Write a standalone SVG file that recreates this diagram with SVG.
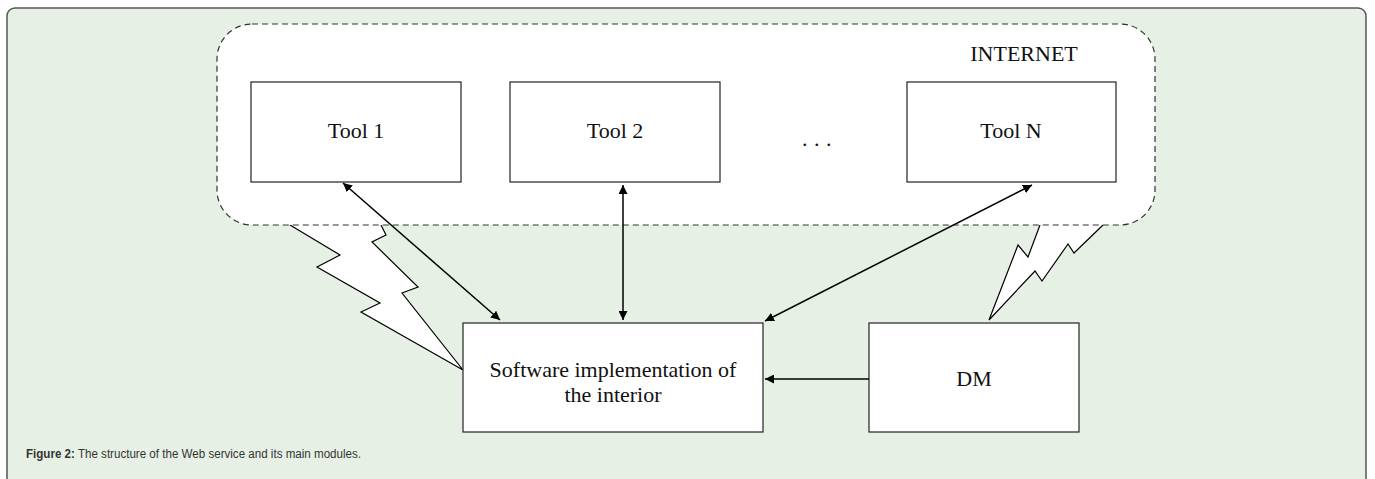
<svg xmlns="http://www.w3.org/2000/svg" width="1375" height="479" viewBox="0 0 1375 479">
<style>
.box{fill:#fff;stroke:#333;stroke-width:1.3}
.lbl{font-family:"Liberation Serif","Times New Roman",serif;font-size:22px;fill:#111;text-anchor:middle}
.conn{stroke:#000;stroke-width:1.5;fill:none}
.bolt{fill:#fff;stroke:none}
.boltline{fill:none;stroke:#000;stroke-width:1.2;stroke-linejoin:miter}
.cap{font-family:"Liberation Sans",Arial,sans-serif;font-size:12px;fill:#333}
</style>
<defs>
<marker id="ah" viewBox="0 0 10 10" refX="10" refY="5" markerWidth="9" markerHeight="9" markerUnits="userSpaceOnUse" orient="auto-start-reverse">
<path d="M0,0 L10,5 L0,10 z" fill="#000"/>
</marker>
</defs>
<rect x="7" y="8" width="1359" height="490" rx="8" fill="#e7f0e5" stroke="#555" stroke-width="1.5"/>
<g id="bolts">
<polygon class="bolt" points="290,225 340,255 317,267 380,303 361,312 463,370 402,293 418,287 372,242 386,235 381,225"/>
<polyline class="boltline" points="290,225 340,255 317,267 380,303 361,312 463,370 402,293 418,287 372,242 386,235 381,225"/>
<polygon class="bolt" points="1040,225 1028,257 1018,245 989,320 1035,271 1042,281 1068,244 1074,253 1103,225"/>
<polyline class="boltline" points="1040,225 1028,257 1018,245 989,320 1035,271 1042,281 1068,244 1074,253 1103,225"/>
</g>
<g id="internet">
<rect x="217" y="24" width="938" height="201" rx="35" fill="#fff" stroke="#333" stroke-width="1.2" stroke-dasharray="6,4"/>
<text class="lbl" x="1024" y="61">INTERNET</text>
</g>
<g id="tool1">
<rect class="box" x="251" y="82" width="210" height="100"/>
<text class="lbl" x="356" y="138">Tool 1</text>
</g>
<g id="tool2">
<rect class="box" x="510" y="82" width="210" height="100"/>
<text class="lbl" x="615" y="138">Tool 2</text>
</g>
<g id="dots">
<text class="lbl" x="802" y="146" style="text-anchor:start;letter-spacing:6.5px">...</text>
</g>
<g id="toolN">
<rect class="box" x="907" y="82" width="209" height="100"/>
<text class="lbl" x="1011" y="138">Tool N</text>
</g>
<g id="software">
<rect class="box" x="463" y="323" width="300" height="109"/>
<text class="lbl" x="613" y="377">Software implementation of</text>
<text class="lbl" x="613" y="402">the interior</text>
</g>
<g id="dm">
<rect class="box" x="869" y="323" width="210" height="109"/>
<text class="lbl" x="974" y="386">DM</text>
</g>
<g id="connectors">
<line class="conn" x1="343" y1="183" x2="500" y2="320" marker-start="url(#ah)" marker-end="url(#ah)"/>
<line class="conn" x1="623" y1="185" x2="623" y2="320" marker-start="url(#ah)" marker-end="url(#ah)"/>
<line class="conn" x1="1032" y1="185" x2="765" y2="321" marker-start="url(#ah)" marker-end="url(#ah)"/>
<line class="conn" x1="869" y1="379" x2="765" y2="379" marker-end="url(#ah)"/>
</g>
<text class="cap" x="26" y="458" textLength="335" lengthAdjust="spacingAndGlyphs"><tspan font-weight="bold">Figure 2:</tspan> The structure of the Web service and its main modules.</text>
</svg>
